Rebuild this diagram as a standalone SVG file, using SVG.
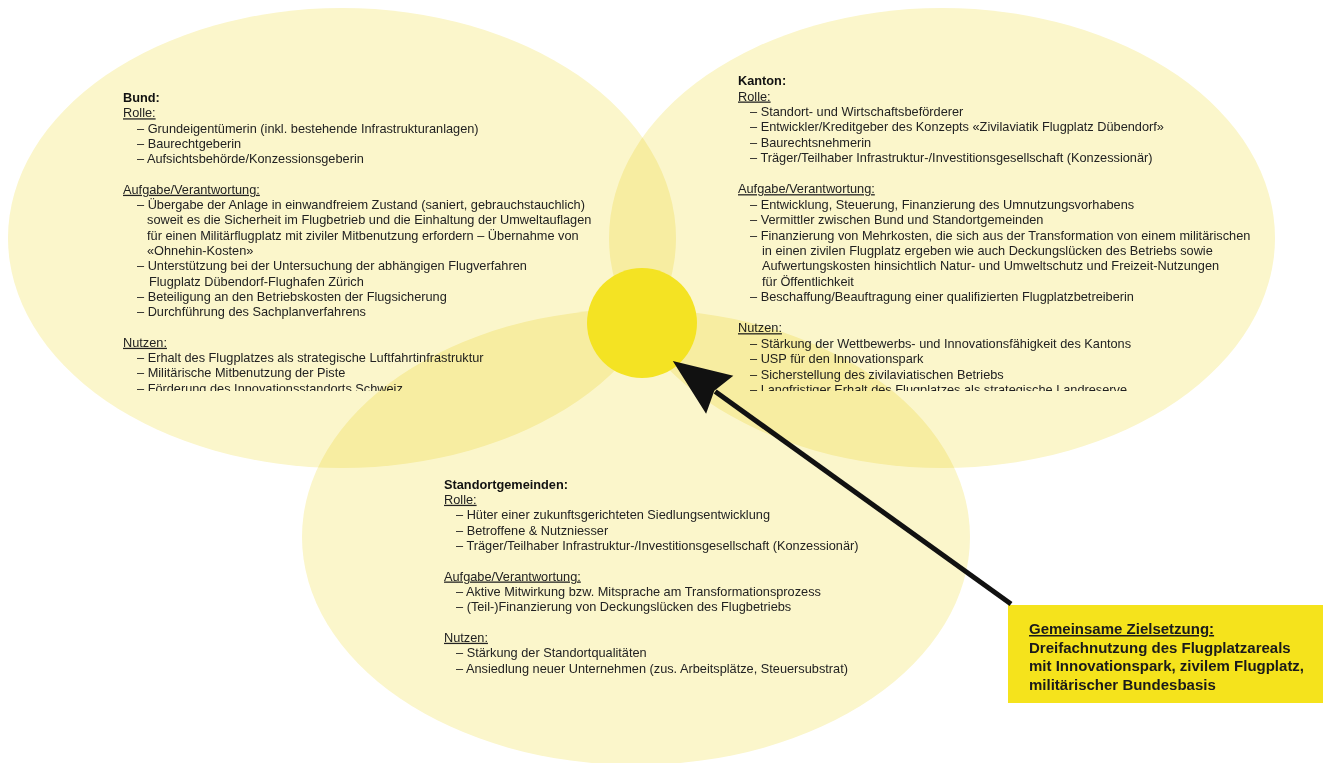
<svg xmlns="http://www.w3.org/2000/svg" width="1327" height="763" viewBox="0 0 1327 763">
<style>
.ell{fill:#FBF6CB;mix-blend-mode:multiply}
.t{font-family:"Liberation Sans",Arial,sans-serif;font-size:12.75px;fill:#222}
.h{font-weight:bold;fill:#111}
.u{text-decoration:underline}
.bx{font-family:"Liberation Sans",Arial,sans-serif;font-size:15px;font-weight:bold;fill:#1a1a1a}
</style>
<defs>
<clipPath id="clipTop"><rect x="0" y="0" width="1327" height="391"/></clipPath>
<marker id="ah" markerUnits="userSpaceOnUse" markerWidth="60" markerHeight="50" viewBox="-6 -22 54 44" refX="0" refY="0" orient="auto">
<path d="M-5,-21 L47,0 L-5,21 L1,0 z" fill="#111"/>
</marker>
</defs>
<rect x="0" y="0" width="1327" height="763" fill="#ffffff"/>

<g id="bund">
<ellipse class="ell" cx="342" cy="238" rx="334" ry="230"/>
<g class="t" clip-path="url(#clipTop)">
<text class="h" x="123" y="102">Bund:</text>
<text class="u" x="123" y="117.3">Rolle:</text>
<text x="137" y="132.6">– Grundeigentümerin (inkl. bestehende Infrastrukturanlagen)</text>
<text x="137" y="147.9">– Baurechtgeberin</text>
<text x="137" y="163.2">– Aufsichtsbehörde/Konzessionsgeberin</text>
<text class="u" x="123" y="193.8">Aufgabe/Verantwortung:</text>
<text x="137" y="209.1">– Übergabe der Anlage in einwandfreiem Zustand (saniert, gebrauchstauchlich)</text>
<text x="147" y="224.4">soweit es die Sicherheit im Flugbetrieb und die Einhaltung der Umweltauflagen</text>
<text x="147" y="239.7">für einen Militärflugplatz mit ziviler Mitbenutzung erfordern – Übernahme von</text>
<text x="147" y="255">«Ohnehin-Kosten»</text>
<text x="137" y="270.3">– Unterstützung bei der Untersuchung der abhängigen Flugverfahren</text>
<text x="149" y="285.6">Flugplatz Dübendorf-Flughafen Zürich</text>
<text x="137" y="300.9">– Beteiligung an den Betriebskosten der Flugsicherung</text>
<text x="137" y="316.2">– Durchführung des Sachplanverfahrens</text>
<text class="u" x="123" y="346.8">Nutzen:</text>
<text x="137" y="362.1">– Erhalt des Flugplatzes als strategische Luftfahrtinfrastruktur</text>
<text x="137" y="377.4">– Militärische Mitbenutzung der Piste</text>
<text x="137" y="392.7">– Förderung des Innovationsstandorts Schweiz</text>
</g>
</g>

<g id="kanton">
<ellipse class="ell" cx="942" cy="238" rx="333" ry="230"/>
<g class="t" clip-path="url(#clipTop)">
<text class="h" x="738" y="85">Kanton:</text>
<text class="u" x="738" y="100.5">Rolle:</text>
<text x="750" y="115.9">– Standort- und Wirtschaftsbeförderer</text>
<text x="750" y="131.4">– Entwickler/Kreditgeber des Konzepts «Zivilaviatik Flugplatz Dübendorf»</text>
<text x="750" y="146.8">– Baurechtsnehmerin</text>
<text x="750" y="162.3">– Träger/Teilhaber Infrastruktur-/Investitionsgesellschaft (Konzessionär)</text>
<text class="u" x="738" y="193.2">Aufgabe/Verantwortung:</text>
<text x="750" y="208.6">– Entwicklung, Steuerung, Finanzierung des Umnutzungsvorhabens</text>
<text x="750" y="224.1">– Vermittler zwischen Bund und Standortgemeinden</text>
<text x="750" y="239.5">– Finanzierung von Mehrkosten, die sich aus der Transformation von einem militärischen</text>
<text x="762" y="255">in einen zivilen Flugplatz ergeben wie auch Deckungslücken des Betriebs sowie</text>
<text x="762" y="270.4">Aufwertungskosten hinsichtlich Natur- und Umweltschutz und Freizeit-Nutzungen</text>
<text x="762" y="285.9">für Öffentlichkeit</text>
<text x="750" y="301.3">– Beschaffung/Beauftragung einer qualifizierten Flugplatzbetreiberin</text>
<text class="u" x="738" y="332.2">Nutzen:</text>
<text x="750" y="347.7">– Stärkung der Wettbewerbs- und Innovationsfähigkeit des Kantons</text>
<text x="750" y="363.1">– USP für den Innovationspark</text>
<text x="750" y="378.6">– Sicherstellung des zivilaviatischen Betriebs</text>
<text x="750" y="394">– Langfristiger Erhalt des Flugplatzes als strategische Landreserve</text>
</g>
</g>

<g id="standortgemeinden">
<ellipse class="ell" cx="636" cy="537" rx="334" ry="228"/>
<g class="t">
<text class="h" x="444" y="488.5">Standortgemeinden:</text>
<text class="u" x="444" y="503.8">Rolle:</text>
<text x="456" y="519.2">– Hüter einer zukunftsgerichteten Siedlungsentwicklung</text>
<text x="456" y="534.5">– Betroffene &amp; Nutzniesser</text>
<text x="456" y="549.8">– Träger/Teilhaber Infrastruktur-/Investitionsgesellschaft (Konzessionär)</text>
<text class="u" x="444" y="580.5">Aufgabe/Verantwortung:</text>
<text x="456" y="595.8">– Aktive Mitwirkung bzw. Mitsprache am Transformationsprozess</text>
<text x="456" y="611.2">– (Teil-)Finanzierung von Deckungslücken des Flugbetriebs</text>
<text class="u" x="444" y="641.8">Nutzen:</text>
<text x="456" y="657.2">– Stärkung der Standortqualitäten</text>
<text x="456" y="672.5">– Ansiedlung neuer Unternehmen (zus. Arbeitsplätze, Steuersubstrat)</text>
</g>
</g>

<g id="zentrum">
<circle cx="642" cy="323" r="55" fill="#F4E323"/>
</g>

<g id="zielsetzung">
<rect x="1008" y="605" width="315" height="98" fill="#F5E31C"/>
<text class="bx u" x="1029" y="634">Gemeinsame Zielsetzung:</text>
<text class="bx" x="1029" y="652.5">Dreifachnutzung des Flugplatzareals</text>
<text class="bx" x="1029" y="671">mit Innovationspark, zivilem Flugplatz,</text>
<text class="bx" x="1029" y="689.5">militärischer Bundesbasis</text>
</g>

<g id="connectors">
<line x1="1011" y1="604" x2="715.2" y2="391.5" stroke="#111" stroke-width="5" marker-end="url(#ah)"/>
</g>
</svg>
